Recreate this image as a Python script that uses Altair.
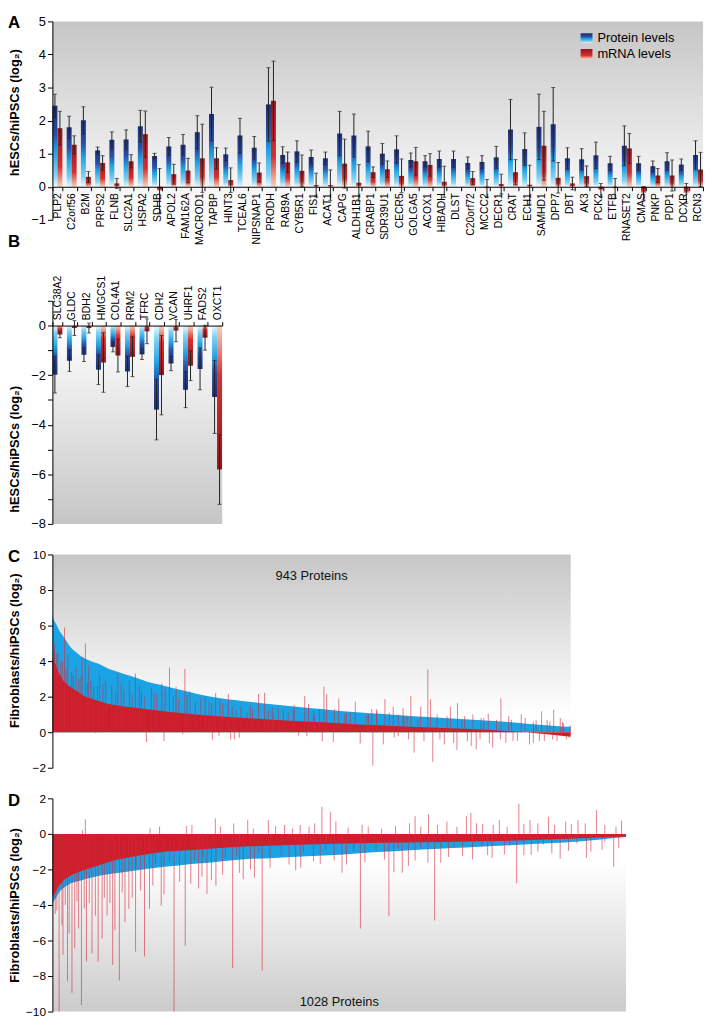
import altair as alt
import pandas as pd

FONT = "Liberation Sans"

# ---------------- Panel A ----------------
genes_a = ["PLP2", "C2orf56", "B2M", "PRPS2", "FLNB", "SLC2A1", "HSPA2", "SDHB", "APOL2", "FAM162A",
           "MACROD1", "TAPBP", "HINT3", "TCEAL6", "NIPSNAP1", "PRODH", "RAB9A", "CYB5R1", "FIS1", "ACAT1",
           "CAPG", "ALDH1B1", "CRABP1", "SDR39U1", "CECR5", "GOLGA5", "ACOX1", "HIBADH", "DLST", "C20orf72",
           "MCCC2", "DECR1", "CRAT", "ECH1", "SAMHD1", "DPP7", "DBT", "AK3", "PCK2", "ETFB",
           "RNASET2", "CMAS", "PNKP", "PDP1", "DCXR", "RCN3"]
prot_a = [2.45, 1.80, 2.01, 1.10, 1.42, 1.43, 1.83, 0.93, 1.22, 1.27,
          1.65, 2.20, 0.98, 1.55, 1.18, 2.49, 0.96, 1.07, 0.90, 0.86,
          1.61, 1.55, 1.22, 1.00, 1.13, 0.81, 0.77, 0.84, 0.84, 0.72,
          0.75, 0.89, 1.73, 1.14, 1.81, 1.89, 0.86, 0.83, 0.95, 0.71,
          1.24, 0.71, 0.62, 0.77, 0.67, 0.96]
prot_err_a = [0.35, 0.33, 0.41, 0.10, 0.24, 0.29, 0.48, 0.08, 0.27, 0.31,
              0.50, 0.81, 0.19, 0.52, 0.34, 1.11, 0.25, 0.32, 0.21, 0.19,
              0.67, 0.65, 0.46, 0.31, 0.41, 0.21, 0.17, 0.24, 0.24, 0.18,
              0.19, 0.33, 0.91, 0.49, 0.99, 1.11, 0.32, 0.32, 0.40, 0.21,
              0.60, 0.21, 0.16, 0.26, 0.17, 0.43]
mrna_a = [1.77, 1.27, 0.30, 0.72, 0.10, 0.77, 1.59, -0.12, 0.38, 0.49,
          0.86, 0.86, 0.20, None, 0.43, 2.60, 0.74, 0.48, 0.05, 0.05,
          0.70, 0.12, 0.44, 0.53, 0.33, 0.77, 0.66, 0.15, None, 0.26,
          -0.05, 0.08, 0.44, 0.06, 1.24, 0.27, 0.10, 0.32, -0.10, -0.05,
          1.16, -0.20, 0.34, 0.34, -0.20, 0.52]
mrna_err_a = [0.51, 0.27, 0.16, 0.22, 0.15, 0.20, 0.70, 0.67, 0.30, 0.37,
              1.03, 0.32, 0.37, None, 0.29, 1.20, 0.31, 0.48, 0.36, 0.46,
              0.74, 0.55, 0.16, 0.25, 0.51, 0.42, 0.34, 0.47, None, 0.20,
              0.27, 0.30, 0.38, 0.59, 1.04, 0.46, 0.19, 0.31, 0.20, 0.30,
              0.45, 0.20, 0.21, 0.47, 0.30, 0.52]

# ---------------- Panel B ----------------
genes_b = ["SLC38A2", "GLDC", "BDH2", "HMGCS1", "COL4A1", "RRM2", "TFRC", "CDH2", "VCAN", "UHRF1", "FADS2", "OXCT1"]
prot_b = [-1.98, -1.42, -1.18, -1.78, -0.86, -1.85, -1.16, -3.39, -1.53, -2.59, -1.75, -2.88]
prot_err_b = [0.74, 0.43, 0.27, 0.60, 0.20, 0.61, 0.21, 1.22, 0.29, 0.72, 0.84, 1.47]
mrna_b = [-0.36, -0.10, -0.10, -1.49, -1.21, -1.26, -0.23, -2.00, -0.20, -1.62, -0.49, -5.81]
mrna_err_b = [0.13, 0.30, 0.20, 1.20, 0.66, 0.80, 0.50, 1.60, 0.45, 0.60, 0.50, 1.40]

# ---------------- Panel C (943 proteins, sorted) ----------------
c_rank = [0, 1, 7, 13, 19, 25, 31, 43, 55, 67, 84, 102, 120, 138, 156, 174, 192, 210, 234, 264, 294,
          318, 345, 381, 417, 453, 489, 524, 560, 596, 632, 683, 743, 803, 863, 910, 943]
c_prot = [6.7, 6.5, 6.07, 5.7, 5.43, 5.15, 4.87, 4.5, 4.22, 4.04, 3.85, 3.57, 3.39, 3.2, 3.02, 2.83, 2.7,
          2.56, 2.37, 2.15, 1.96, 1.85, 1.76, 1.63, 1.52, 1.41, 1.3, 1.2, 1.11, 1.04, 0.96, 0.85, 0.74,
          0.63, 0.48, 0.37, 0.3]
c_base_rank = [0, 6, 12, 20, 30, 45, 60, 80, 100, 130, 170, 210, 260, 300, 350, 400, 450, 500, 550,
               600, 650, 700, 750, 800, 850, 900, 943]
c_base = [4.2, 3.8, 3.3, 2.9, 2.6, 2.3, 2.0, 1.8, 1.6, 1.45, 1.3, 1.15, 1.0, 0.9, 0.8, 0.7, 0.62, 0.55,
          0.45, 0.38, 0.3, 0.25, 0.2, 0.12, 0.02, -0.12, -0.25]
c_spike_rank = [4, 22, 43, 54, 60, 66, 75, 86, 119, 151, 199, 213, 225, 241, 297, 320, 343, 375, 386, 440,
                459, 494, 499, 521, 551, 605, 620, 638, 652, 670, 683, 688, 724, 737, 793, 816, 853, 890,
                912, 924,
                78, 171, 203, 237, 291, 303, 324, 331, 340, 448, 463, 491, 511, 560, 583, 602, 622, 629,
                658, 692, 713, 736, 762, 771, 801, 825, 846, 868, 886, 910, 940,
                10, 15, 28, 35, 48, 70, 92, 108, 130, 140, 162, 180, 190, 220, 250, 270, 285, 310, 360,
                400, 420, 475, 535, 575, 590, 645, 700, 750, 780, 835, 875, 900, 930,
                3, 8, 18, 25, 38, 52, 64, 82, 97, 115, 125, 145, 158, 168, 185, 205, 230, 245, 260, 278,
                290, 305,
                327, 334, 354, 364, 393, 402, 411, 429, 438, 466, 477, 486, 513, 532, 542, 572, 581, 590,
                613, 629,
                640, 648, 665, 676, 705, 718, 730, 745, 755, 765, 778, 785, 795, 808, 815, 830, 838, 860,
                875, 880, 895, 905, 918, 928, 935, 942]
c_spike_val = [5.0, 5.89, 3.67, 4.22, 5.0, 3.76, 2.56, 3.2, 3.33, 3.3, 2.74, 3.63, 2.56, 3.56, 2.2, 2.15,
               1.44, 2.15, 2.22, 1.52, 2.04, 2.56, 2.15, 1.91, 1.72, 1.87, 1.44, 1.35, 2.04, 1.44, 3.52,
               1.85, 1.44, 1.63, 1.04, 1.91, 1.02, 1.17, 1.26, 0.8,
               -0.06, -0.56, -0.5, -0.11, -0.43, -0.2, -0.41, -0.41, -0.31, -0.18, -0.22, -0.5, -0.56,
               -0.63, -1.89, -0.69, -0.31, -0.22, -1.15, -1.67, -0.69, -1.0, -0.78, -0.96, -0.87, -0.59,
               -0.5, -0.69, -0.5, -0.41, -0.31,
               4.5, 3.9, 4.3, 3.4, 3.0, 2.9, 2.7, 2.6, 2.4, 2.9, 2.3, 2.5, 2.1, 2.0, 2.3, 1.9, 1.7, 1.6,
               1.5, 1.4, 1.3, 1.2, 1.1, 1.0, 1.3, 0.9, 1.0, 0.9, 0.8, 0.7, 0.6, 0.7, 0.5,
               4.6, 4.4, 4.0, 3.6, 3.2, 3.1, 2.8, 2.6, 2.9, 2.2, 2.7, 2.1, 2.6, 2.0, 2.2, 2.4, 1.9, 2.1,
               1.7, 2.0, 1.6, 1.8,
               1.4, 1.2, 1.1, 1.3, 1.2, 1.0, 1.3, 1.1, 1.3, 1.6, 1.0, 1.3, 1.3, 1.0, 1.1, 1.0, 1.3, 1.2,
               1.1, 1.0,
               0.9, -0.4, 0.7, -0.5, -0.4, 0.9, -0.6, 0.7, -0.5, 1.0, -0.4, 0.8, -0.6, 0.7, -0.4, 0.9,
               -0.5, 0.8, -0.6, 0.7, -0.5, 0.6, -0.5, 0.6, -0.4, 0.4]

# ---------------- Panel D (1028 proteins, sorted) ----------------
d_rank = [0, 1, 7, 12, 21, 30, 42, 54, 71, 89, 113, 142, 171, 201, 230, 260, 289, 319, 348, 398, 457,
          516, 575, 634, 692, 742, 801, 860, 919, 978, 1028]
d_prot = [-4.1, -3.94, -3.57, -3.29, -3.02, -2.83, -2.7, -2.59, -2.46, -2.33, -2.22, -2.09, -1.96, -1.85,
          -1.76, -1.67, -1.59, -1.5, -1.42, -1.35, -1.26, -1.17, -1.04, -0.93, -0.83, -0.76, -0.67,
          -0.57, -0.48, -0.33, -0.18]
d_base_rank = [0, 10, 20, 35, 50, 70, 90, 110, 140, 170, 200, 250, 300, 350, 400, 500, 600, 700, 800,
               900, 1028]
d_base = [-3.6, -3.0, -2.6, -2.3, -2.1, -1.9, -1.7, -1.5, -1.3, -1.15, -1.0, -0.9, -0.8, -0.7, -0.65,
          -0.55, -0.5, -0.45, -0.4, -0.3, -0.15]
d_spike_rank = [12, 17, 19, 27, 35, 40, 47, 52, 61, 71, 82, 89, 98, 108, 112, 120, 130, 137, 149, 165,
                174, 195, 218, 238, 262, 277, 293, 323, 342, 362, 376, 424, 436, 468, 519, 527, 552,
                603, 612, 627, 638, 673, 685, 696, 753, 788, 832, 858, 910, 957, 1006,
                54, 59, 175, 192, 240, 250, 292, 301, 325, 350, 387, 416, 444, 460, 483, 498, 508, 566,
                650, 674, 707, 742, 750, 771, 801, 836, 856, 889, 920, 942, 975, 1020,
                150, 185, 210, 255, 270, 310, 330, 370, 410, 450, 490, 540, 580, 620, 660, 720, 770,
                820, 880, 940, 990,
                360, 400, 430, 470, 530, 555, 590, 615, 640, 660, 690, 725, 760, 790, 815, 845, 870,
                900, 930, 955, 990, 1010,
                5, 8, 23, 30, 44, 57, 66, 77, 93, 103, 125, 143, 158, 180, 200, 228, 248, 268, 285, 305,
                335, 355, 390, 445, 480, 505, 560, 595, 650, 710, 735, 780, 810, 845, 870, 895, 925, 965,
                985, 1015]
d_spike_val = [-10, -5.15, -6.81, -8.3, -8.94, -6.44, -5.33, -9.63, -7.18, -6.72, -7.18, -5.89, -4.59,
               -7.37, -5.42, -8.26, -4.96, -4.22, -6.63, -6.9, -4.22, -4.03, -10, -6.3, -3.07, -3.38,
               -2.92, -7.55, -2.55, -2.46, -7.7, -1.72, -2.04, -1.54, -2.18, -1.72, -5.33, -4.63,
               -2.15, -2.18, -1.81, -1.63, -4.87, -1.63, -1.44, -1.35, -2.78, -1.17, -1.41, -1.35, -1.85,
               0.19, 0.82, 0.32, 0.41, 0.44, 0.5, 0.87, 0.41, 0.59, 0.78, 0.78, 0.5, 0.5, 0.41, 1.52,
               1.24, 0.69, 0.41, 1.0, 1.11, 0.69, 1.0, 1.18, 0.56, 0.78, 1.7, 0.78, 0.96, 0.69, 0.78,
               1.33, 0.74,
               -1.9, -1.7, -1.6, -1.5, -1.3, -1.4, -1.2, -1.1, -1.2, -1.0, -0.9, -1.0, -0.95, -0.8,
               -0.85, -0.7, -0.75, -0.65, -0.6, -0.55, -0.45,
               0.3, 0.45, 0.3, 0.6, 0.35, 0.5, 0.3, 0.45, 0.6, 0.4, 0.5, 0.4, 0.6, 0.5, 0.4, 0.55, 0.6,
               0.5, 0.55, 0.6, 0.5, 0.4,
               -4.5, -4.3, -4.0, -5.6, -3.8, -4.2, -3.9, -4.6, -3.6, -3.9, -3.3, -3.6, -3.2, -2.9, -3.4,
               -2.7, -2.8, -2.4, -2.6, -2.3, -2.2, -2.0, -1.9, -1.9, -1.7, -1.5, -1.6, -1.45, -1.5, -1.3,
               -1.25, -1.2, -1.15, -1.2, -1.0, -1.1, -0.95, -1.0, -0.9, -0.8]

# ---------------- styles ----------------
BLUE = "#1ba3e6"
RED = "#cc1f2c"
YTITLE_AB = "hESCs/hiPSCs (log₂)"
YTITLE_CD = "Fibroblasts/hiPSCs (log₂)"

W_A, H_A = 659, 201
W_B, H_B = 172, 226
W_C, H_C = 525, 216
W_D, H_D = 581, 216


def lin_grad(stops, y1=0, y2=1):
    return alt.Gradient(gradient="linear", x1=0, y1=y1, x2=0, y2=y2,
                        stops=[alt.GradientStop(offset=o, color=c) for o, c in stops])


PROT_STOPS = [(0, "#1d2d74"), (0.35, "#2a4fa5"), (0.55, "#1f9fe2"), (0.85, "#86d2f3"), (1, "#eef8fd")]
MRNA_STOPS = [(0, "#861a1c"), (0.3, "#b51f26"), (0.65, "#d6302d"), (1, "#f6d2bf")]


def bar_df(genes, prot, perr, mrna, merr):
    rows = []
    for g, p, pe, m, me in zip(genes, prot, perr, mrna, merr):
        rows.append(dict(gene=g, series="Protein", value=p, err=pe))
        if m is not None:
            rows.append(dict(gene=g, series="mRNA", value=m, err=me))
    return pd.DataFrame(rows)


def y_axis(values, title, title_y, label_expr=None, size=13):
    kw = dict(values=values, title=title, titleFontSize=13, titleFontWeight="bold", titleFont=FONT,
              titleX=-38, titleY=title_y, titleBaseline="middle", titleAngle=270, titleAlign="center",
              labelFontSize=size, labelFont=FONT, labelColor="black", labelFlush=False, labelPadding=2,
              tickSize=5, tickColor="black", domainColor="black", grid=False, labelOverlap=False, zindex=2)
    if label_expr is not None:
        kw["labelExpr"] = label_expr
    return alt.Axis(**kw)


def background(W, H, stops):
    return alt.Chart(pd.DataFrame({"k": [0]})).mark_rect(color=lin_grad(stops)).encode(
        x=alt.value(0), x2=alt.value(W), y=alt.value(0), y2=alt.value(H))


def letter_layer(letter, y):
    return alt.Chart(pd.DataFrame({"t": [letter]})).mark_text(
        align="left", baseline="top", fontSize=17, fontWeight="bold", font=FONT, color="black"
    ).encode(text="t:N", x=alt.value(-45), y=alt.value(y))


def bar_panel(df, genes, W, H, dom, yvals, label_expr, x_orient, flip, letter, letter_y, title_y, bg_stops):
    px_per_unit = H / (dom[1] - dom[0])
    if x_orient == "bottom":
        off = -(0 - dom[0]) * px_per_unit
    else:
        off = -(dom[1] - 0) * px_per_unit
    xax = alt.Axis(title=None, orient=x_orient, labelAngle=-90, offset=off, tickSize=4, tickBand="extent",
                   labelPadding=2, labelFontSize=10.5, labelFont=FONT, labelColor="black",
                   domainColor="black", tickColor="black", labelOverlap=False, grid=False, zindex=2)
    x = alt.X("gene:N", sort=genes, scale=alt.Scale(paddingInner=0.3, paddingOuter=0), axis=xax)
    xo = alt.XOffset("series:N", sort=["Protein", "mRNA"], scale=alt.Scale(paddingInner=0, paddingOuter=0))
    ys = alt.Scale(domain=dom, nice=False, zero=False)
    yax = y_axis(yvals, YTITLE_AB, title_y, label_expr)

    base = alt.Chart(df).transform_calculate(lo="datum.value - datum.err", hi="datum.value + datum.err")
    if flip:
        gp, gm = lin_grad(PROT_STOPS, 1, 0), lin_grad(MRNA_STOPS, 1, 0)
    else:
        gp, gm = lin_grad(PROT_STOPS), lin_grad(MRNA_STOPS)

    pbars = base.transform_filter("datum.series == 'Protein'").mark_bar(color=gp).encode(
        x=x, xOffset=xo, y=alt.Y("value:Q", scale=ys, axis=yax))
    mbars = base.transform_filter("datum.series == 'mRNA'").mark_bar(color=gm).encode(
        x=x, xOffset=xo, y=alt.Y("value:Q", scale=ys, axis=yax))
    rules = base.mark_rule(color="#222222", strokeWidth=1).encode(
        x=x, xOffset=xo, y=alt.Y("lo:Q", scale=ys, axis=yax), y2="hi:Q")
    cap_hi = base.mark_tick(color="#222222", thickness=1, size=4).encode(
        x=x, xOffset=xo, y=alt.Y("hi:Q", scale=ys, axis=yax))
    cap_lo = base.mark_tick(color="#222222", thickness=1, size=4).encode(
        x=x, xOffset=xo, y=alt.Y("lo:Q", scale=ys, axis=yax))

    return [background(W, H, bg_stops), pbars, mbars, rules, cap_hi, cap_lo, letter_layer(letter, letter_y)]


# ----- Panel A -----
df_a = bar_df(genes_a, prot_a, prot_err_a, mrna_a, mrna_err_a)
layers_a = bar_panel(df_a, genes_a, W_A, H_A, [-1, 5], [-1, 0, 1, 2, 3, 4, 5], None, "bottom", False,
                     "A", -6, 92, [(0, "#c6c6c6"), (1, "#ffffff")])
legend_items = [("Protein levels", PROT_STOPS, 12), ("mRNA levels", MRNA_STOPS, 28)]
for label, stops, ly in legend_items:
    layers_a.append(alt.Chart(pd.DataFrame({"t": [label]})).mark_rect(color=lin_grad(stops)).encode(
        x=alt.value(535), x2=alt.value(547), y=alt.value(ly), y2=alt.value(ly + 10)))
    layers_a.append(alt.Chart(pd.DataFrame({"t": [label]})).mark_text(
        align="left", baseline="middle", fontSize=13, font=FONT, color="black").encode(
        text="t:N", x=alt.value(552), y=alt.value(ly + 5)))
panel_a = alt.layer(*layers_a).properties(width=W_A, height=H_A)

# ----- Panel B -----
df_b = bar_df(genes_b, prot_b, prot_err_b, mrna_b, mrna_err_b)
layers_b = bar_panel(df_b, genes_b, W_B, H_B, [-8, 1], list(range(-8, 2)),
                     "datum.value % 2 == 0 ? datum.label : ''", "top", True,
                     "B", -67, 150, [(0, "#ffffff"), (0.1, "#ffffff"), (1, "#c6c6c6")])
panel_b = alt.layer(*layers_b).properties(width=W_B, height=H_B)


# ----- Panels C, D -----
def dense_panel(rank, prot, base_rank, base, spike_rank, spike_val, n, W, H, dom, yvals, bg_stops,
                letter, letter_y, note, note_y, title_y):
    xs = alt.Scale(domain=[0, n], nice=False, zero=False)
    ys = alt.Scale(domain=dom, nice=False, zero=False)
    yax = y_axis(yvals, YTITLE_CD, title_y, None, 12)
    x = alt.X("rank:Q", scale=xs, axis=None)
    blue = alt.Chart(pd.DataFrame({"rank": rank, "v": prot})).mark_area(
        color=BLUE, interpolate="monotone").encode(
        x=x, y=alt.Y("v:Q", scale=ys, axis=yax), y2=alt.datum(0))
    redbase = alt.Chart(pd.DataFrame({"rank": base_rank, "v": base})).mark_area(
        color=RED, interpolate="linear").encode(
        x=x, y=alt.Y("v:Q", scale=ys, axis=yax), y2=alt.datum(0))
    spikes = alt.Chart(pd.DataFrame({"rank": spike_rank, "v": spike_val})).mark_rule(
        color="#d3283a", opacity=0.6, strokeWidth=1).encode(
        x=x, y=alt.Y("v:Q", scale=ys, axis=yax), y2=alt.datum(0))
    txt = alt.Chart(pd.DataFrame({"t": [note]})).mark_text(
        fontSize=13, font=FONT, color="#111111", baseline="middle", align="center").encode(
        text="t:N", x=alt.value(W / 2), y=alt.value(note_y))
    return alt.layer(background(W, H, bg_stops), blue, redbase, spikes, txt,
                     letter_layer(letter, letter_y)).properties(width=W, height=H)


panel_c = dense_panel(c_rank, c_prot, c_base_rank, c_base, c_spike_rank, c_spike_val, 943, W_C, H_C,
                      [-2, 10], [-2, 0, 2, 4, 6, 8, 10], [(0, "#c6c6c6"), (0.75, "#ffffff"), (1, "#ffffff")],
                      "C", -5, "943 Proteins", 22, 97)
panel_d = dense_panel(d_rank, d_prot, d_base_rank, d_base, d_spike_rank, d_spike_val, 1028, W_D, H_D,
                      [-10, 2], [-10, -8, -6, -4, -2, 0, 2], [(0, "#ffffff"), (0.3, "#ffffff"), (1, "#cbcbcb")],
                      "D", -5, "1028 Proteins", 206, 108)

spacer = alt.Chart(pd.DataFrame({"k": [0]})).mark_point(opacity=0).encode(
    x=alt.value(0), y=alt.value(0)).properties(width=10, height=20)

chart = alt.vconcat(panel_a, spacer, panel_b, panel_c, panel_d, spacing=31, bounds="flush").properties(
    padding={"left": 0, "top": 0, "right": 0, "bottom": 0},
    autosize=alt.AutoSizeParams(type="pad")
).configure(font=FONT).configure_view(stroke=None)

chart.save("out.html", embed_options={"renderer": "svg", "actions": False})
